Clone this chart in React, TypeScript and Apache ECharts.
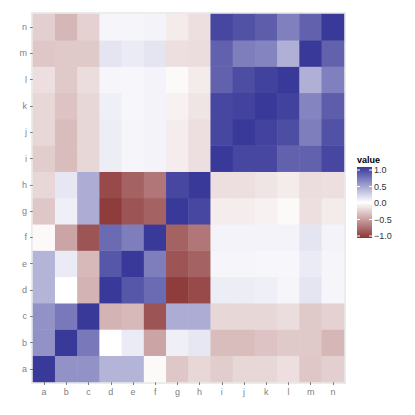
import React, { useEffect, useRef } from "react";
import * as echarts from "echarts";

const variables = ["a", "b", "c", "d", "e", "f", "g", "h", "i", "j", "k", "l", "m", "n"];

// correlation rows (columns a..n)
const rowA = [1, 0.55, 0.55, 0.38, 0.38, -0.03, -0.28, -0.2, -0.25, -0.2, -0.2, -0.16, -0.28, -0.24];
const rowB = [0.55, 1, 0.68, 0.0, 0.1, -0.45, 0.08, 0.12, -0.33, -0.33, -0.3, -0.27, -0.27, -0.36];
const rowC = [0.55, 0.68, 1, -0.38, -0.35, -0.85, 0.42, 0.42, -0.2, -0.2, -0.2, -0.17, -0.27, -0.23];
const rowD = [0.38, 0.0, -0.38, 1, 0.85, 0.75, -0.97, -0.9, 0.09, 0.09, 0.08, 0.05, 0.13, 0.05];
const rowE = [0.38, 0.1, -0.35, 0.85, 1, 0.65, -0.85, -0.78, 0.05, 0.05, 0.04, 0.04, 0.1, 0.05];
const rowF = [-0.03, -0.45, -0.85, 0.75, 0.65, 1, -0.78, -0.68, 0.06, 0.06, 0.06, 0.06, 0.13, 0.06];
const rowG = [-0.28, 0.08, 0.42, -0.97, -0.85, -0.78, 1, 0.93, -0.09, -0.09, -0.07, -0.03, -0.16, -0.1];
const rowH = [-0.2, 0.12, 0.42, -0.9, -0.78, -0.68, 0.93, 1, -0.16, -0.16, -0.13, -0.1, -0.17, -0.16];
const rowI = [-0.25, -0.33, -0.2, 0.09, 0.05, 0.06, -0.09, -0.16, 1, 0.93, 0.93, 0.8, 0.8, 0.93];
const rowJ = [-0.2, -0.33, -0.2, 0.09, 0.05, 0.06, -0.09, -0.16, 0.93, 1, 0.95, 0.9, 0.65, 0.88];
const rowK = [-0.2, -0.3, -0.2, 0.08, 0.04, 0.06, -0.07, -0.13, 0.93, 0.95, 1, 0.96, 0.62, 0.82];
const rowL = [-0.16, -0.27, -0.17, 0.05, 0.04, 0.06, -0.03, -0.1, 0.8, 0.9, 0.96, 1, 0.4, 0.64];
const rowM = [-0.28, -0.27, -0.27, 0.13, 0.1, 0.13, -0.16, -0.17, 0.8, 0.65, 0.62, 0.4, 1, 0.8];
const rowN = [-0.24, -0.36, -0.23, 0.05, 0.05, 0.06, -0.1, -0.16, 0.93, 0.88, 0.82, 0.64, 0.8, 1];

const rows = [rowA, rowB, rowC, rowD, rowE, rowF, rowG, rowH, rowI, rowJ, rowK, rowL, rowM, rowN];

const legendTicks = ["1.0", "0.5", "0.0", "\u22120.5", "\u22121.0"];

const HIGH = "#39399a";
const MID = "#ffffff";
const LOW = "#8c3637";
const FONT = "Liberation Sans, Arial, sans-serif";

export default function App() {
  const ref = useRef<HTMLDivElement>(null);
  useEffect(() => {
    if (!ref.current) return;
    const chart = echarts.init(ref.current, null, { renderer: "svg" });
    const data: number[][] = [];
    rows.forEach((row, y) => row.forEach((v, x) => data.push([x, y, v])));

    const gl = 33, gt = 14, gw = 311, gh = 368;
    const barX = 357, barTop = 167, barH = 71, barW = 15;
    const tickTop = 170, tickBottom = 236;

    const graphics: any[] = [
      {
        type: "rect",
        z: -10,
        shape: { x: gl - 2, y: gt - 2, width: gw + 4, height: gh + 4 },
        style: { fill: "#ebebeb" },
        silent: true,
      },
      {
        type: "text",
        left: barX,
        top: barTop - 12,
        style: { text: "value", font: `bold 9px ${FONT}`, fill: "#000" },
      },
      {
        type: "rect",
        shape: { x: barX, y: barTop, width: barW, height: barH },
        style: {
          fill: new echarts.graphic.LinearGradient(0, 0, 0, 1, [
            { offset: 0, color: HIGH },
            { offset: 0.5, color: MID },
            { offset: 1, color: LOW },
          ]),
        },
      },
    ];
    legendTicks.forEach((t, i) => {
      const y = tickTop + ((tickBottom - tickTop) * i) / (legendTicks.length - 1);
      graphics.push({
        type: "line",
        shape: { x1: barX, y1: y, x2: barX + 3, y2: y },
        style: { stroke: "#ffffff", lineWidth: 1 },
      });
      graphics.push({
        type: "line",
        shape: { x1: barX + barW - 3, y1: y, x2: barX + barW, y2: y },
        style: { stroke: "#ffffff", lineWidth: 1 },
      });
      graphics.push({
        type: "text",
        x: barX + barW + 2,
        y: y,
        style: { text: t, font: `9px ${FONT}`, fill: "#333", verticalAlign: "middle", align: "left" },
      });
    });

    const axisCommon = {
      type: "category" as const,
      data: variables,
      axisLine: { show: false },
      axisTick: { show: true, alignWithLabel: true, length: 3, lineStyle: { color: "#7f7f7f" } },
      splitLine: { show: false },
      splitArea: { show: false },
    };

    chart.setOption({
      animation: false,
      backgroundColor: "#ffffff",
      grid: { left: gl, top: gt, width: gw, height: gh, containLabel: false },
      xAxis: {
        ...axisCommon,
        axisLabel: { color: "#7f7f7f", fontSize: 9, fontFamily: FONT, margin: 5 },
      },
      yAxis: {
        ...axisCommon,
        axisLabel: { color: "#7f7f7f", fontSize: 9, fontFamily: FONT, margin: 6 },
      },
      visualMap: {
        show: false,
        type: "continuous",
        min: -1,
        max: 1,
        dimension: 2,
        inRange: { color: [LOW, MID, HIGH] },
      },
      graphic: graphics,
      series: [
        {
          type: "heatmap",
          data,
          itemStyle: { borderWidth: 0 },
          emphasis: { disabled: true },
        },
      ],
    });
    return () => chart.dispose();
  }, []);
  return (
    <div
      ref={ref}
      style={{ position: "fixed", left: 0, top: 0, width: 415, height: 415 }}
    />
  );
}
